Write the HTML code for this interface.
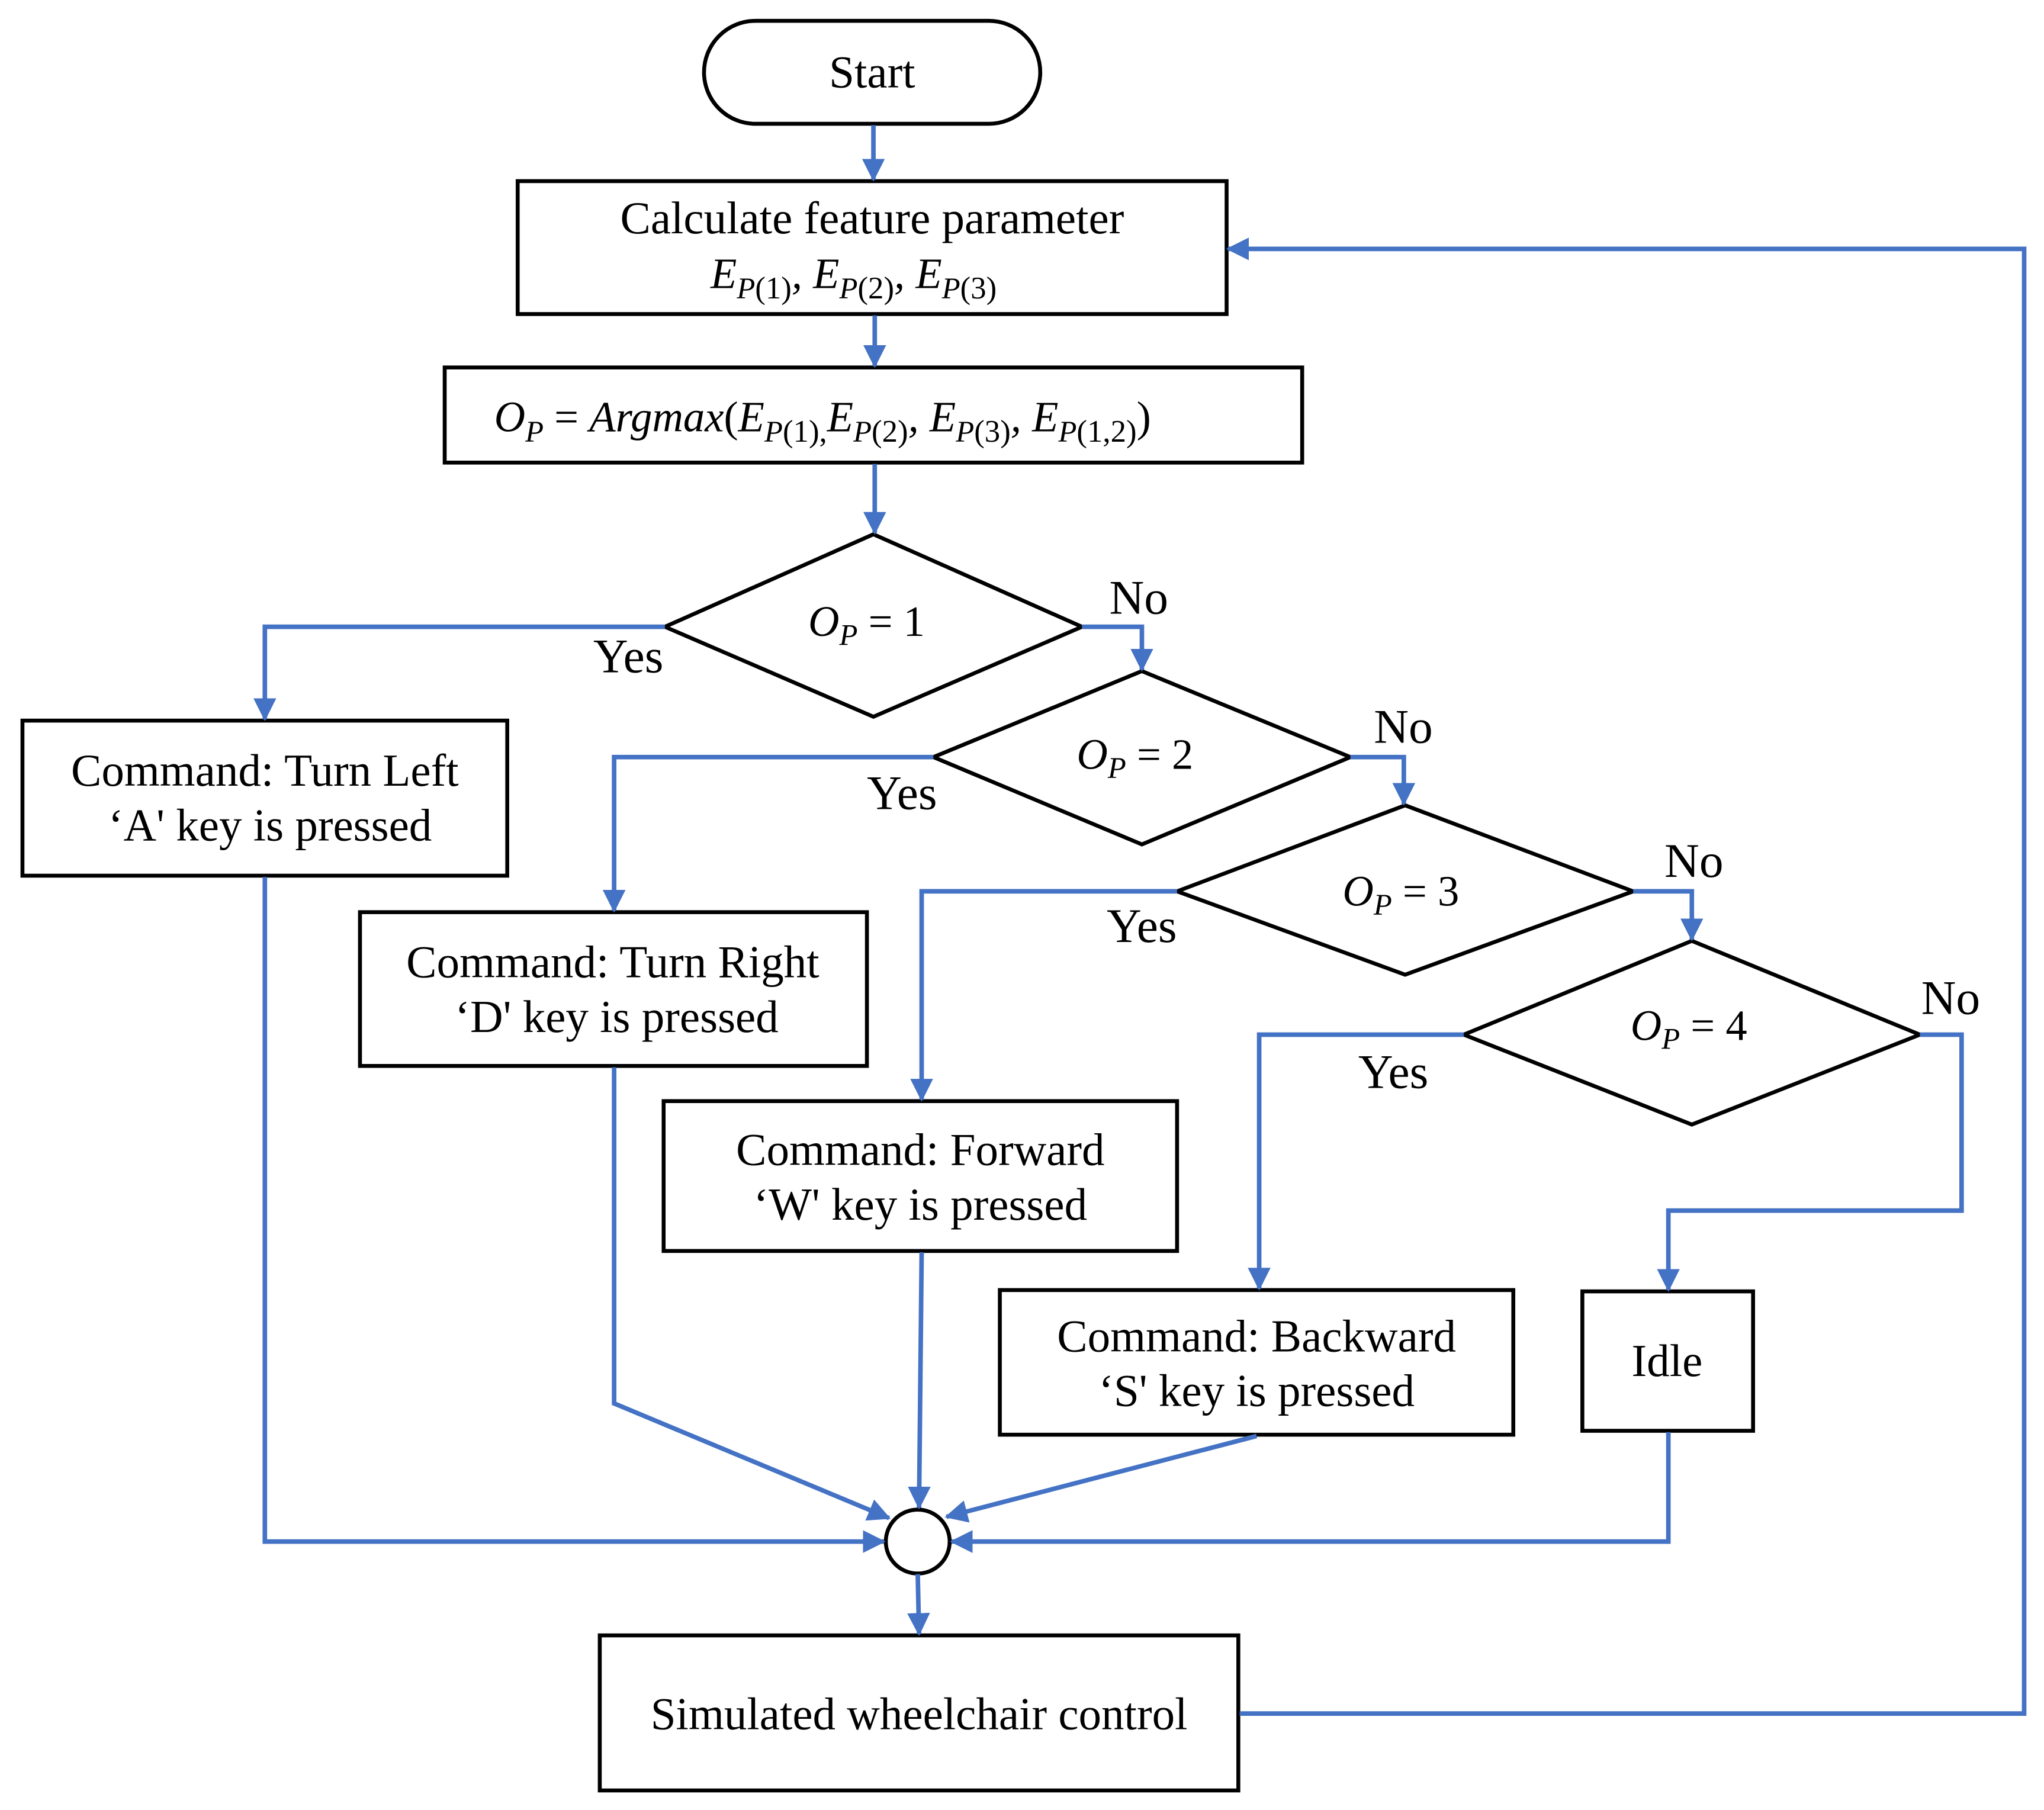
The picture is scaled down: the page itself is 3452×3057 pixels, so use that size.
<!DOCTYPE html>
<html><head><meta charset="utf-8"><style>
html,body{margin:0;padding:0;background:#fff}
svg{display:block}
text{font-family:"Liberation Serif",serif;fill:#000}
.t{font-size:35px}
.l{font-size:37px}
.m{font-size:33px;font-style:italic}
.s{font-size:23px;font-style:italic}
.n{font-size:24px}
.d{font-size:33px}
</style></head><body>
<svg width="3452" height="3057" viewBox="0 0 1568 1389" xmlns="http://www.w3.org/2000/svg">
<defs>
<marker id="a" markerWidth="5" markerHeight="5" refX="4.6" refY="2.5" orient="auto" markerUnits="strokeWidth">
<path d="M0,0 L5,2.5 L0,5 z" fill="#4472C4"/>
</marker>
</defs>
<g fill="#fff" stroke="#000" stroke-width="3">
<rect x="540" y="16" width="258" height="79" rx="39.5"/>
<rect x="397" y="139" width="544" height="102"/>
<rect x="341" y="282" width="658" height="73"/>
<polygon points="670,410 830,481 670,550 510,481"/>
<polygon points="876,515 1036,581 876,648 716,581"/>
<polygon points="1078,618 1253,684 1078,748 903,684"/>
<polygon points="1298,722 1473,794 1298,863 1123,794"/>
<rect x="17" y="553" width="372" height="119"/>
<rect x="276" y="700" width="389" height="118"/>
<rect x="509" y="845" width="394" height="115"/>
<rect x="767" y="990" width="394" height="111"/>
<rect x="1214" y="991" width="131" height="107"/>
<circle cx="704" cy="1183" r="24.5"/>
<rect x="460" y="1255" width="490" height="119"/>
</g>
<g fill="none" stroke="#4472C4" stroke-width="3.5" marker-end="url(#a)">
<path d="M670,96 V138"/>
<path d="M671,242 V281"/>
<path d="M671,356 V409"/>
<path d="M510,481 H203 V552"/>
<path d="M830,481 H876 V514"/>
<path d="M716,581 H471 V699"/>
<path d="M1036,581 H1077 V617"/>
<path d="M903,684 H707 V844"/>
<path d="M1253,684 H1298 V721"/>
<path d="M1123,794 H966 V989"/>
<path d="M1473,794 H1505 V929 H1280 V990"/>
<path d="M203,673 V1183 H678"/>
<path d="M471,819 V1077 L682,1165"/>
<path d="M707,961 L705,1157"/>
<path d="M964,1102 L726,1164"/>
<path d="M1280,1099 V1183 H730"/>
<path d="M704,1208 L705,1254"/>
<path d="M951,1315 H1553 V191 H942"/>
</g>
<g class="t" text-anchor="middle">
<text x="669" y="67">Start</text>
<text x="669" y="179">Calculate feature parameter</text>
<text x="203" y="603">Command: Turn Left</text>
<text x="207" y="645">‘A' key is pressed</text>
<text x="470" y="750">Command: Turn Right</text>
<text x="473" y="792">‘D' key is pressed</text>
<text x="706" y="894">Command: Forward</text>
<text x="706" y="936">‘W' key is pressed</text>
<text x="964" y="1037">Command: Backward</text>
<text x="964" y="1079">‘S' key is pressed</text>
<text x="1279" y="1056">Idle</text>
<text x="705" y="1327">Simulated wheelchair control</text>
</g>
<g class="l">
<text x="851" y="471">No</text>
<text x="455" y="516">Yes</text>
<text x="1054" y="570">No</text>
<text x="665" y="621">Yes</text>
<text x="1277" y="673">No</text>
<text x="849" y="723">Yes</text>
<text x="1474" y="778">No</text>
<text x="1042" y="835">Yes</text>
</g>
<text x="545" y="221"><tspan class="m">E</tspan><tspan class="s" dy="8">P</tspan><tspan class="n">(1)</tspan><tspan class="m" dy="-8">, E</tspan><tspan class="s" dy="8">P</tspan><tspan class="n">(2)</tspan><tspan class="m" dy="-8">, E</tspan><tspan class="s" dy="8">P</tspan><tspan class="n">(3)</tspan></text>
<text x="379" y="331"><tspan class="m">O</tspan><tspan class="s" dy="8">P</tspan><tspan class="m" dy="-8" style="font-style:normal">  =  </tspan><tspan class="m">Argmax</tspan><tspan class="m" style="font-style:normal">(</tspan><tspan class="m">E</tspan><tspan class="s" dy="8">P</tspan><tspan class="n">(1),</tspan><tspan class="m" dy="-8">E</tspan><tspan class="s" dy="8">P</tspan><tspan class="n">(2)</tspan><tspan class="m" dy="-8">, E</tspan><tspan class="s" dy="8">P</tspan><tspan class="n">(3)</tspan><tspan class="m" dy="-8">, E</tspan><tspan class="s" dy="8">P</tspan><tspan class="n">(1,2)</tspan><tspan class="m" dy="-8" style="font-style:normal">)</tspan></text>
<text x="620" y="488"><tspan class="m">O</tspan><tspan class="s" dy="7">P</tspan><tspan class="d" dy="-7"> = 1</tspan></text>
<text x="826" y="590"><tspan class="m">O</tspan><tspan class="s" dy="7">P</tspan><tspan class="d" dy="-7"> = 2</tspan></text>
<text x="1030" y="695"><tspan class="m">O</tspan><tspan class="s" dy="7">P</tspan><tspan class="d" dy="-7"> = 3</tspan></text>
<text x="1251" y="798"><tspan class="m">O</tspan><tspan class="s" dy="7">P</tspan><tspan class="d" dy="-7"> = 4</tspan></text>
</svg>
</body></html>
